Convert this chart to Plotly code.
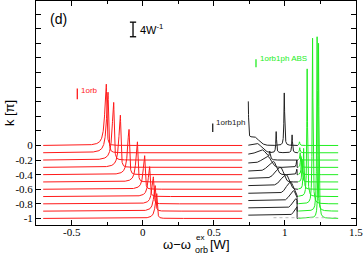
import numpy as np
import plotly.graph_objects as go

# ---------------- data ----------------
k_values = [0.0, -0.1, -0.2, -0.3, -0.4, -0.5, -0.6, -0.7, -0.8, -0.9, -1.0]
SCALE = 0.05  # 4 W^-1 scale bar == 0.2 in k units

# 1orb (red): quasi-particle peak per k
red_x_range = [-0.70, 0.70]
red_peak_pos = [-0.256, -0.244, -0.204, -0.157, -0.096, -0.037, 0.014, 0.049, 0.075, 0.088, 0.099]
red_peak_height = [16.8, 16.6, 15.8, 14.3, 12.4, 11.0, 9.2, 8.2, 7.4, 7.0, 6.8]   # W^-1
red_gamma_left = 0.012
red_gamma_right = 0.004

# 1orb1ph (black): continuum + sharp features per k
black_x_range = [0.743, 1.092]
black_cut = 1.086
black_plateau = [2.0, 2.0, 1.6, 1.2, 1.0, 1.0, 1.0, 0.9, 0.9, 0.9, 0.9]          # W^-1
black_hump_center = [0.78, 0.80, 0.84, 0.88, 0.92, 0.97, 1.01, 1.04, 1.06, 1.075, 1.085]
black_hump_height = [2.4, 2.6, 2.8, 3.0, 3.6, 4.0, 4.0, 4.0, 3.6, 3.4, 3.2]    # W^-1
black_hump_wleft = [0.03, 0.04, 0.05, 0.05, 0.05, 0.05, 0.05, 0.04, 0.035, 0.03, 0.025]
black_hump_wright = [0.05, 0.05, 0.04, 0.035, 0.03, 0.03, 0.03, 0.03, 0.03, 0.03, 0.03]
black_peak_row = [0, 0, 1, 1, 2, 3, 4]
black_peak_pos = [0.743, 0.996, 0.939, 1.051, 0.894, 1.084, 1.084]
black_peak_height = [10.0, 14.4, 5.8, 4.9, 2.0, 2.0, 1.5]                     # W^-1
black_peak_gamma = [0.002, 0.003, 0.003, 0.003, 0.004, 0.004, 0.004]

# 1orb1ph ABS (green): anti-bound state per k
green_x_range = [1.095, 1.375]
green_peak_pos = [1.103, 1.105, 1.108, 1.112, 1.117, 1.122, 1.132, 1.157, 1.195, 1.227, 1.237]
green_peak_height = [1.0, 1.4, 2.0, 3.0, 4.4, 6.0, 11.2, 35.0, 45.4, 47.8, 48.0]  # W^-1
green_gamma = 0.003

x_tick_vals = [-0.5, 0, 0.5, 1, 1.5]
x_tick_text = ["-0.5", "0", "0.5", "1", "1.5"]
y_tick_vals = [-1.0, -0.8, -0.6, -0.4, -0.2, 0.0]
y_tick_text = ["-1", "-0.8", "-0.6", "-0.4", "-0.2", "0"]

RED = "#ff1a1a"
BLACK = "#222222"
GREEN = "#22ee22"


def lorentz(x, x0, h, gl, gr=None):
    gr = gl if gr is None else gr
    g = np.where(x < x0, gl, gr)
    return h * g**2 / ((x - x0) ** 2 + g**2)


fig = go.Figure()

# red curves
xr = np.linspace(red_x_range[0], red_x_range[1], 2801)
for i, k in enumerate(k_values):
    y = lorentz(xr, red_peak_pos[i], red_peak_height[i], red_gamma_left, red_gamma_right)
    fig.add_trace(go.Scatter(x=xr, y=k + SCALE * y, mode="lines",
                             line=dict(color=RED, width=1), hoverinfo="skip"))

# black curves
xb = np.linspace(black_x_range[0], black_x_range[1], 1397)
for i, k in enumerate(k_values):
    m = black_hump_center[i]
    s = black_plateau[i]
    a = black_hump_height[i]
    cont = np.where(xb < m,
                    s + (a - s) * np.exp(-((xb - m) / black_hump_wleft[i]) ** 2),
                    a * np.exp(-((xb - m) / black_hump_wright[i]) ** 2))
    for r, p, h, g in zip(black_peak_row, black_peak_pos, black_peak_height, black_peak_gamma):
        if r == i:
            cont = cont + lorentz(xb, p, h, g)
    cont = np.where(xb > black_cut, 0.0, cont)
    fig.add_trace(go.Scatter(x=xb, y=k + SCALE * cont, mode="lines",
                             line=dict(color=BLACK, width=1), hoverinfo="skip"))

# green curves
xg = np.linspace(green_x_range[0], green_x_range[1], 1121)
for i, k in enumerate(k_values):
    y = lorentz(xg, green_peak_pos[i], green_peak_height[i], green_gamma)
    fig.add_trace(go.Scatter(x=xg, y=k + SCALE * y, mode="lines",
                             line=dict(color=GREEN, width=1), hoverinfo="skip"))

# faint dotted base at k = -1 on the right
fig.add_trace(go.Scatter(x=[0.92, 1.38], y=[k_values[-1] + 0.01] * 2, mode="lines",
                         line=dict(color="#bbbbbb", width=1, dash="dot"), hoverinfo="skip"))

shapes = []
# intensity scale bar (4 W^-1)
bx, by0 = -0.068, 1.49
by1 = by0 + 4 * SCALE
shapes += [
    dict(type="line", x0=bx, x1=bx, y0=by0, y1=by1, line=dict(color="black", width=1.3)),
    dict(type="line", x0=bx - 0.022, x1=bx + 0.022, y0=by0, y1=by0, line=dict(color="black", width=1.3)),
    dict(type="line", x0=bx - 0.022, x1=bx + 0.022, y0=by1, y1=by1, line=dict(color="black", width=1.3)),
]
# small label ticks
shapes += [
    dict(type="line", x0=-0.46, x1=-0.46, y0=0.634, y1=0.781, line=dict(color=RED, width=1.3)),
    dict(type="line", x0=0.4926, x1=0.4926, y0=0.186, y1=0.301, line=dict(color=BLACK, width=1.3)),
    dict(type="line", x0=0.797, x1=0.797, y0=1.073, y1=1.182, line=dict(color=GREEN, width=1.3)),
]

SANS = "Liberation Sans, Arial, sans-serif"
SERIF = "Liberation Serif, Times New Roman, serif"
ann = [
    dict(text="(d)", x=-0.595, y=1.73, xref="x", yref="y", showarrow=False,
         font=dict(family=SANS, size=14, color="black")),
    dict(text="4W<sup>-1</sup>", x=-0.03, y=1.60, xref="x", yref="y", showarrow=False,
         xanchor="left", font=dict(family=SANS, size=11, color="black")),
    dict(text="1orb", x=-0.445, y=0.757, xref="x", yref="y", showarrow=False,
         xanchor="left", font=dict(family=SANS, size=8, color=RED)),
    dict(text="1orb1ph", x=0.505, y=0.318, xref="x", yref="y", showarrow=False,
         xanchor="left", font=dict(family=SANS, size=8, color=BLACK)),
    dict(text="1orb1ph ABS", x=0.81, y=1.19, xref="x", yref="y", showarrow=False,
         xanchor="left", font=dict(family=SANS, size=8, color=GREEN)),
    # x axis title pieces
    dict(text="ω−ω", x=0.354, y=-0.086, xref="x", yref="paper", showarrow=False,
         xanchor="right", yanchor="middle", font=dict(family=SANS, size=13, color="black")),
    dict(text="ex", x=0.358, y=-0.054, xref="x", yref="paper", showarrow=False,
         xanchor="left", yanchor="middle", font=dict(family=SANS, size=8, color="black")),
    dict(text="orb", x=0.354, y=-0.110, xref="x", yref="paper", showarrow=False,
         xanchor="left", yanchor="middle", font=dict(family=SANS, size=9, color="black")),
    dict(text="[W]", x=0.458, y=-0.086, xref="x", yref="paper", showarrow=False,
         xanchor="left", yanchor="middle", font=dict(family=SANS, size=13, color="black")),
    # y axis title
    dict(text="k [π]", x=-0.084, y=0.5, xref="paper", yref="paper", showarrow=False,
         textangle=-90, xanchor="center", yanchor="middle",
         font=dict(family=SANS, size=13, color="black")),
]
# x tick labels placed just under the axis
for v, t in zip(x_tick_vals, x_tick_text):
    ann.append(dict(text=t, x=v, y=-0.031, xref="x", yref="paper", showarrow=False,
                    xanchor="center", yanchor="middle",
                    font=dict(family=SERIF, size=11, color="black")))

fig.update_layout(
    width=363, height=259,
    margin=dict(l=36, r=7, t=1, b=34, pad=0),
    paper_bgcolor="white", plot_bgcolor="white",
    showlegend=False,
    shapes=shapes, annotations=ann,
    xaxis=dict(range=[-0.7505, 1.5005], tickvals=x_tick_vals, showticklabels=False,
               automargin=False,
               ticks="inside", ticklen=5, tickcolor="black", showgrid=False, zeroline=False,
               showline=True, linecolor="black", linewidth=1, mirror="allticks",
               minor=dict(dtick=0.25, tick0=0, ticks="inside", ticklen=3, tickcolor="black",
                          showgrid=False)),
    yaxis=dict(range=[-1.09, 1.98], tickvals=y_tick_vals, ticktext=y_tick_text,
               automargin=False,
               ticks="inside", ticklen=5, tickcolor="black", showgrid=False, zeroline=False,
               showline=True, linecolor="black", linewidth=1, mirror="allticks",
               tickfont=dict(family=SERIF, size=11, color="black"),
               minor=dict(dtick=0.2, tick0=0, ticks="inside", ticklen=5, tickcolor="black",
                          showgrid=False)),
)

fig.write_html("out.html", config={"displayModeBar": False},
               post_script="document.body.style.margin='0';document.body.style.padding='0';")
